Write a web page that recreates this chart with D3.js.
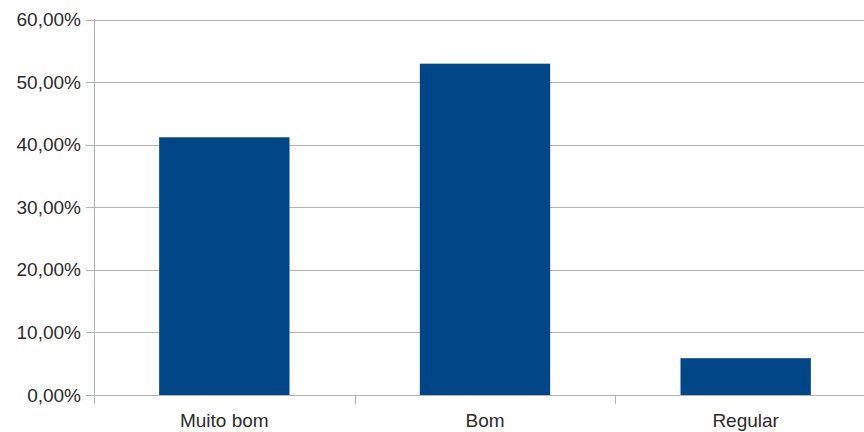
<!DOCTYPE html>
<html><head><meta charset="utf-8">
<script src="https://cdn.jsdelivr.net/npm/d3@7"></script>
<style>body{margin:0;background:#fff}svg{display:block}</style>
</head><body>
<script>
const categories = ["Muito bom", "Bom", "Regular"];
const values = [0.4118, 0.5294, 0.0588];
const yTicks = [0, 0.1, 0.2, 0.3, 0.4, 0.5, 0.6];

const W = 864, H = 432;
const svg = d3.select("body").append("svg").attr("width", W).attr("height", H);
const x = d3.scaleBand().domain(categories).range([94, 876]).paddingInner(0.5).paddingOuter(0.25);
const y = d3.scaleLinear().domain([0, 0.6]).range([395, 19.5]);
const fmt = v => d3.format(".2f")(v * 100).replace(".", ",") + "%";

// gridlines
svg.append("g").selectAll("line").data(yTicks).join("line")
  .attr("x1", 86).attr("x2", W)
  .attr("y1", d => Math.round(y(d)) + 0.5).attr("y2", d => Math.round(y(d)) + 0.5)
  .attr("stroke", "#b3b3b3").attr("stroke-width", 1);

// y axis line
svg.append("line").attr("x1", 94.5).attr("x2", 94.5).attr("y1", 19).attr("y2", 404)
  .attr("stroke", "#b3b3b3");

// category ticks
const bounds = categories.map((c, i) => x(c) - x.bandwidth() * 0.5).slice(1);
svg.append("g").selectAll("line").data(bounds).join("line")
  .attr("x1", d => Math.round(d) + 0.5).attr("x2", d => Math.round(d) + 0.5)
  .attr("y1", 395).attr("y2", 404).attr("stroke", "#b3b3b3");

// bars
svg.append("g").selectAll("rect").data(values).join("rect")
  .attr("x", (d, i) => x(categories[i]))
  .attr("width", x.bandwidth())
  .attr("y", d => y(d))
  .attr("height", d => y(0) - y(d))
  .attr("fill", "#004586");

// y labels
svg.append("g").selectAll("text").data(yTicks).join("text")
  .attr("x", 81).attr("y", d => y(d) + 6.5)
  .attr("text-anchor", "end")
  .attr("font-family", "Liberation Sans, Arial, sans-serif").attr("font-size", 19)
  .attr("fill", "#2b2b2b").text(fmt);

// x labels
svg.append("g").selectAll("text").data(categories).join("text")
  .attr("x", d => x(d) + x.bandwidth() / 2).attr("y", 427)
  .attr("text-anchor", "middle")
  .attr("font-family", "Liberation Sans, Arial, sans-serif").attr("font-size", 19)
  .attr("fill", "#2b2b2b").text(d => d);
</script>
</body></html>
